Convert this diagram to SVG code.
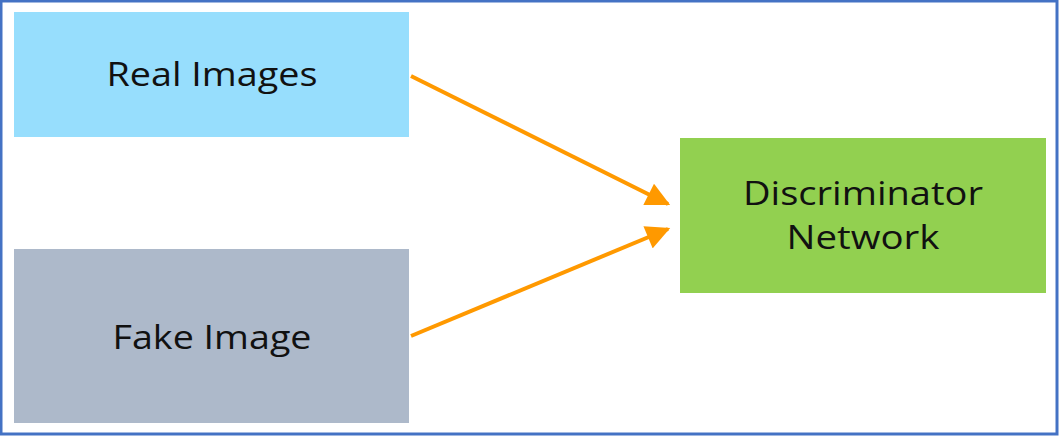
<svg xmlns="http://www.w3.org/2000/svg" width="1059" height="436" viewBox="0 0 1059 436">
  <style>
    .label { font-family: "Open Sans", "Noto Sans", "DejaVu Sans", sans-serif; font-size: 32px; fill: #111111; text-anchor: middle; }
    .edge { stroke: #FF9900; stroke-width: 4; fill: none; }
  </style>
  <defs>
    <marker id="arrow" viewBox="0 0 10 10" refX="9" refY="5" markerWidth="6.5" markerHeight="6" markerUnits="strokeWidth" orient="auto">
      <path d="M0,0 L10,5 L0,10 Z" fill="#FF9900"/>
    </marker>
  </defs>
  <rect x="0" y="0" width="1059" height="436" fill="#FFFFFF"/>
  <rect x="1" y="1" width="1056" height="433" fill="none" stroke="#4472C4" stroke-width="3"/>

  <g id="real-images">
    <rect x="14" y="12" width="395" height="125" fill="#97DEFD"/>
    <text class="label" x="212" y="86" textLength="211" lengthAdjust="spacingAndGlyphs">Real Images</text>
  </g>
  <g id="fake-image">
    <rect x="14" y="249" width="395" height="174" fill="#ADB9CA"/>
    <text class="label" x="212" y="349" textLength="199" lengthAdjust="spacingAndGlyphs">Fake Image</text>
  </g>
  <g id="discriminator">
    <rect x="680" y="138" width="366" height="155" fill="#92D050"/>
    <text class="label" x="863" y="205" textLength="240" lengthAdjust="spacingAndGlyphs">Discriminator</text>
    <text class="label" x="863" y="249" textLength="153" lengthAdjust="spacingAndGlyphs">Network</text>
  </g>

  <g id="connectors">
    <line class="edge" x1="411" y1="76" x2="668" y2="204" marker-end="url(#arrow)"/>
    <line class="edge" x1="411" y1="336" x2="668" y2="229" marker-end="url(#arrow)"/>
  </g>
</svg>
